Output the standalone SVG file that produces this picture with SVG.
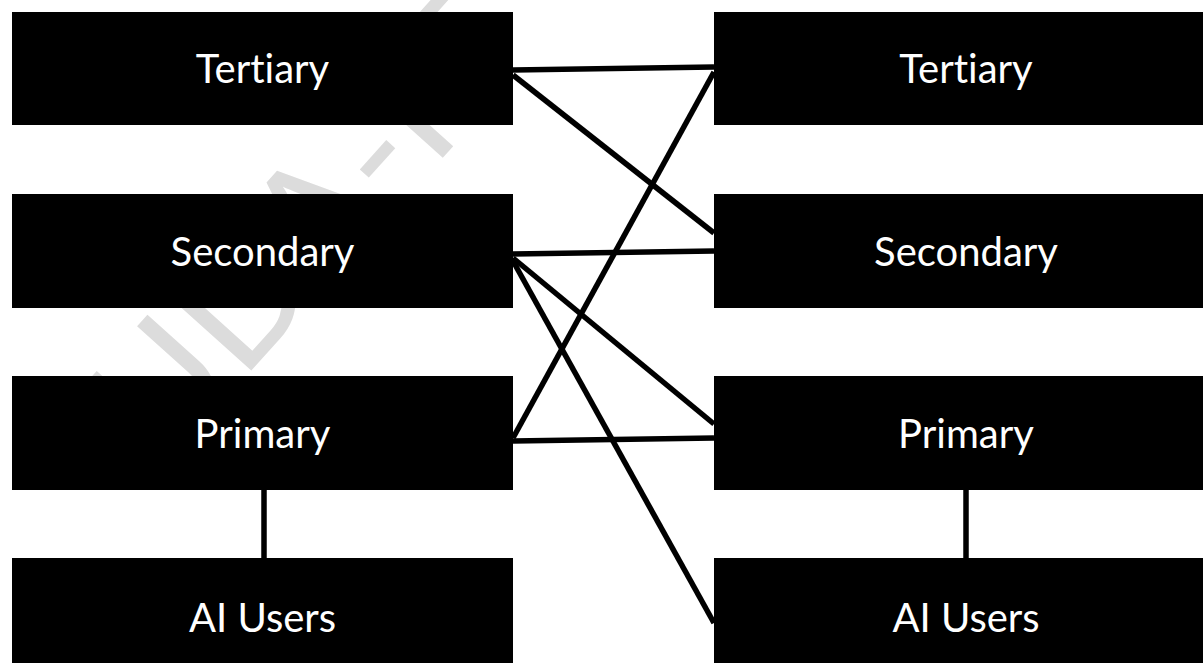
<svg xmlns="http://www.w3.org/2000/svg" width="1203" height="663" viewBox="0 0 1203 663">
  <style>
    .box { fill: #000000; }
    .label { fill: #ffffff; font-family: Lato, "Open Sans", "Liberation Sans", sans-serif; font-size: 40px; text-anchor: middle; font-variant-ligatures: none; }
    .link { stroke: #000000; stroke-width: 5.5; stroke-linecap: butt; fill: none; }
    .mark { fill: #dcdcdc; font-family: Lato, "Liberation Sans", sans-serif; font-size: 160px; font-variant-ligatures: none; }
  </style>
  <rect x="0" y="0" width="1203" height="663" fill="#ffffff"/>

  <!-- faint background watermark -->
  <g id="watermark">
    <text class="mark" transform="translate(405,200) rotate(-48)" x="-362" y="0">UDA-IT</text>
  </g>

  <!-- connectors between the two columns -->
  <g id="connectors">
    <line class="link" x1="513" y1="70" x2="714" y2="67"/>
    <line class="link" x1="513" y1="75" x2="714" y2="233"/>
    <line class="link" x1="513" y1="438" x2="714" y2="72"/>
    <line class="link" x1="513" y1="254" x2="714" y2="251"/>
    <line class="link" x1="513" y1="258" x2="714" y2="424"/>
    <line class="link" x1="513" y1="261" x2="714" y2="623"/>
    <line class="link" x1="513" y1="441" x2="714" y2="438"/>
    <line class="link" x1="264" y1="490" x2="264" y2="558"/>
    <line class="link" x1="966" y1="490" x2="966" y2="558"/>
  </g>

  <!-- left column -->
  <g id="left-tertiary">
    <rect class="box" x="12" y="12" width="501" height="113"/>
    <text class="label" x="262.5" y="83">Tertiary</text>
  </g>
  <g id="left-secondary">
    <rect class="box" x="12" y="194" width="501" height="114"/>
    <text class="label" x="262.5" y="266">Secondary</text>
  </g>
  <g id="left-primary">
    <rect class="box" x="12" y="376" width="501" height="114"/>
    <text class="label" x="262.5" y="448">Primary</text>
  </g>
  <g id="left-ai-users">
    <rect class="box" x="12" y="558" width="501" height="118"/>
    <text class="label" x="262.5" y="632">AI Users</text>
  </g>

  <!-- right column -->
  <g id="right-tertiary">
    <rect class="box" x="714" y="12" width="504" height="113"/>
    <text class="label" x="966" y="83">Tertiary</text>
  </g>
  <g id="right-secondary">
    <rect class="box" x="714" y="194" width="504" height="114"/>
    <text class="label" x="966" y="266">Secondary</text>
  </g>
  <g id="right-primary">
    <rect class="box" x="714" y="376" width="504" height="114"/>
    <text class="label" x="966" y="448">Primary</text>
  </g>
  <g id="right-ai-users">
    <rect class="box" x="714" y="558" width="504" height="118"/>
    <text class="label" x="966" y="632">AI Users</text>
  </g>
</svg>
